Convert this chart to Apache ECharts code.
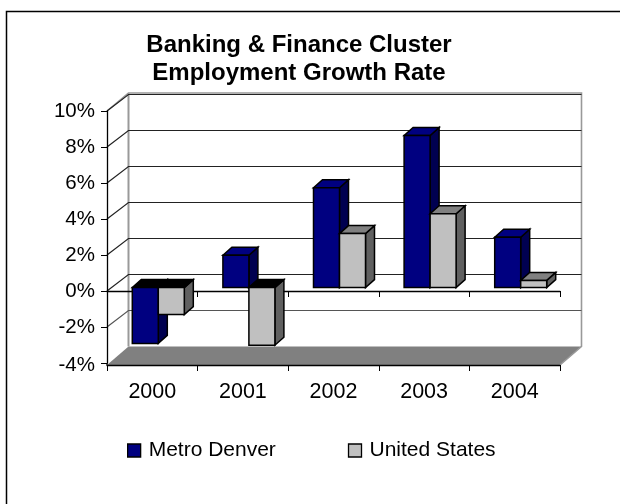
<!DOCTYPE html>
<html>
<head>
<meta charset="utf-8">
<style>html,body{margin:0;padding:0;background:#fff}#c{width:620px;height:504px}</style>
<script src="https://cdn.jsdelivr.net/npm/echarts@6/dist/echarts.min.js"></script>
</head>
<body>
<div id="c"></div>
<script>
var titleText = 'Banking & Finance Cluster\nEmployment Growth Rate';
var years = ['2000', '2001', '2002', '2003', '2004'];
var metroDenver = [-3.1, 1.8, 5.55, 8.45, 2.8];
var unitedStates = [-1.5, -3.2, 3.0, 4.1, 0.4];
var gridTicks = [-2, 0, 2, 4, 6, 8, 10];

var FONT = '"Liberation Sans", Arial, sans-serif';
var WALL_DX = 21.5, WALL_DY = -16.5;     // front plane to back wall
var BAR_DX = 6, BAR_DY = -3.4;           // front plane to bar front face
var BAR_W = 26, SIDE_DX = 9, SIDE_DY = -8;
var FLOOR_DROP = 2;

var chart = echarts.init(document.getElementById('c'));

function line(points, stroke, width) {
  return { type: 'polyline', shape: { points: points }, style: { fill: null, stroke: stroke, lineWidth: width } };
}
function poly(points, fill) {
  return { type: 'polygon', shape: { points: points }, style: { fill: fill, stroke: '#000', lineWidth: 1.5, lineJoin: 'miter' } };
}

function renderWalls(params, api) {
  var g = params.coordSys;
  var top = api.coord([0, 10])[1], bot = api.coord([0, -4])[1];
  var xl = g.x, xr = g.x + g.width;
  var gray = '#999999';
  return { type: 'group', children: [
    { type: 'polygon', shape: { points: [[xl, bot + FLOOR_DROP], [xl + WALL_DX, bot + WALL_DY], [xr + WALL_DX, bot + WALL_DY], [xr, bot + FLOOR_DROP]] }, style: { fill: '#808080' } },
    line([[xl, top], [xl + WALL_DX, top + WALL_DY - 1.5], [xr + WALL_DX, top + WALL_DY - 1.5], [xr + WALL_DX, bot + WALL_DY], [xr, bot + FLOOR_DROP]], gray, 1.6),
    line([[xl + WALL_DX, top + WALL_DY - 1.5], [xl + WALL_DX, bot + WALL_DY]], gray, 2),
    line([[xl, bot], [xl, bot + FLOOR_DROP]], '#000', 1.3)
  ] };
}

function renderGrid(params, api) {
  var g = params.coordSys;
  var y = api.coord([0, api.value(0)])[1];
  return line([[g.x, y], [g.x + WALL_DX, y + WALL_DY], [g.x + g.width + WALL_DX, y + WALL_DY]],
    api.value(0) === -2 ? '#555555' : '#222222', 1.2);
}

function barRenderer(offset, sideColor, topColor) {
  return function (params, api) {
    var i = api.value(0), v = api.value(1);
    var p = api.coord([i, v]), z = api.coord([i, 0]);
    var x0 = p[0] + BAR_DX + offset, x1 = x0 + BAR_W;
    var base = z[1] + BAR_DY, end = p[1] + BAR_DY;
    var top = Math.min(base, end), bot = Math.max(base, end);
    var color = api.visual('color');
    return { type: 'group', children: [
      poly([[x1, top], [x1 + SIDE_DX, top + SIDE_DY], [x1 + SIDE_DX, bot + SIDE_DY], [x1, bot]], sideColor),
      poly([[x0, top], [x0 + SIDE_DX, top + SIDE_DY], [x1 + SIDE_DX, top + SIDE_DY], [x1, top]], v < 0 ? '#000' : topColor),
      poly([[x0, top], [x1, top], [x1, bot], [x0, bot]], color)
    ] };
  };
}

chart.setOption({
  animation: false,
  backgroundColor: '#fff',
  textStyle: { fontFamily: FONT },
  title: {
    text: titleText, left: 294, top: 26, textAlign: 'center',
    textStyle: { fontFamily: FONT, fontSize: 24, fontWeight: 'bold', color: '#000', lineHeight: 28 }
  },
  legend: {
    left: 122, top: 435, itemWidth: 13, itemHeight: 13, itemGap: 72, icon: 'rect',
    selectedMode: false,
    textStyle: { fontFamily: FONT, fontSize: 21, color: '#000', padding: [0, 0, 0, 3] },
    data: [
      { name: 'Metro Denver', itemStyle: { color: '#000080', borderColor: '#000', borderWidth: 1.3 } },
      { name: 'United States', itemStyle: { color: '#c0c0c0', borderColor: '#000', borderWidth: 1.3 } }
    ]
  },
  grid: { left: 107, top: 111, width: 453, height: 252 },
  xAxis: [
    { type: 'category', data: years, position: 'bottom', offset: FLOOR_DROP,
      axisLine: { onZero: false, lineStyle: { color: '#000', width: 1.3 } },
      axisTick: { show: true, length: 6, alignWithLabel: false, lineStyle: { color: '#000', width: 1 } },
      axisLabel: { color: '#000', fontFamily: FONT, fontSize: 21.5, margin: 16, interval: 0 },
      splitLine: { show: false } },
    { type: 'category', data: years, position: 'bottom',
      axisLine: { onZero: true, lineStyle: { color: '#000', width: 1.3 } },
      axisTick: { show: true, length: 6, lineStyle: { color: '#000', width: 1 } },
      axisLabel: { show: false }, splitLine: { show: false } }
  ],
  yAxis: {
    type: 'value', min: -4, max: 10, interval: 2,
    axisLine: { show: true, onZero: false, lineStyle: { color: '#000', width: 1.3 } },
    axisTick: { show: true, length: 6, lineStyle: { color: '#000', width: 1 } },
    axisLabel: { color: '#000', fontFamily: FONT, fontSize: 20.5, margin: 12,
      formatter: function (v) { return v === -4 ? '{m|-4%}' : v + '%'; },
      rich: { m: { fontFamily: FONT, fontSize: 20.5, color: '#000', padding: [4, 0, 0, 0] } } },
    splitLine: { show: false }
  },
  series: [
    { type: 'custom', name: 'walls', z: -2, silent: true, renderItem: renderWalls, data: [[0]], encode: { y: 0 }, clip: false },
    { type: 'custom', name: 'grid', z: -1, silent: true, renderItem: renderGrid, data: gridTicks.map(function (t) { return [t]; }), encode: { y: 0 }, clip: false },
    { type: 'custom', name: 'Metro Denver', z: 3, silent: true, itemStyle: { color: '#000080' }, clip: false,
      renderItem: barRenderer(-26, '#000050', '#000080'),
      data: metroDenver.map(function (v, i) { return [i, v]; }), encode: { x: 0, y: 1 } },
    { type: 'custom', name: 'United States', z: 4, silent: true, itemStyle: { color: '#c0c0c0' }, clip: false,
      renderItem: barRenderer(0, '#606060', '#808080'),
      data: unitedStates.map(function (v, i) { return [i, v]; }), encode: { x: 0, y: 1 } }
  ],
  graphic: [
    { type: 'polyline', z: 10, shape: { points: [[6.5, 504], [6.5, 11.5], [620, 11.5]] }, style: { fill: null, stroke: '#000', lineWidth: 1.5 } }
  ]
});
</script>
</body>
</html>
